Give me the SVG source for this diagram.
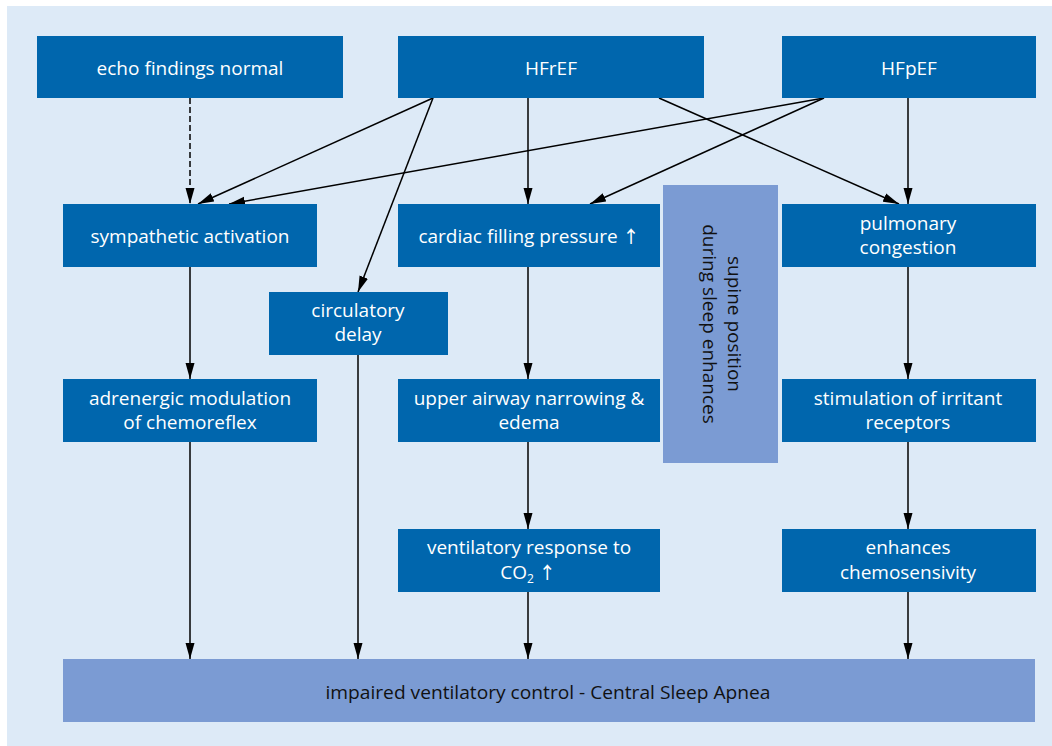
<svg xmlns="http://www.w3.org/2000/svg" width="1052" height="746" viewBox="0 0 1052 746">
<defs>
<marker id="ah" markerUnits="userSpaceOnUse" markerWidth="16" markerHeight="10" refX="16" refY="5" orient="auto">
<path d="M0,0.5 L16,5 L0,9.5 Z" fill="#000"/>
</marker>
<style>
.n{fill:#0066ad}
.l{fill:#7b9bd3}
.t{font-family:"Open Sans","Noto Sans",sans-serif;font-size:19px;fill:#fff;text-anchor:middle}
.d{font-family:"Open Sans","Noto Sans",sans-serif;font-size:19px;fill:#111;text-anchor:middle}
.a{font-family:"Noto Sans CJK SC","DejaVu Sans",sans-serif;font-size:17px;font-weight:500}
.c{stroke:#000;stroke-width:1.5;fill:none;marker-end:url(#ah)}
</style>
</defs>
<rect x="0" y="0" width="1052" height="746" fill="#fff"/>
<rect x="7" y="6" width="1045" height="740" fill="#ddeaf7"/>

<g id="connectors">
<path class="c" d="M190,98 L190,204" stroke-dasharray="6,3"/>
<path class="c" d="M433,98 L198,204"/>
<path class="c" d="M433,98 L358,292"/>
<path class="c" d="M528,98 L528,204"/>
<path class="c" d="M659,98 L899,204"/>
<path class="c" d="M824,98 L229,204"/>
<path class="c" d="M824,98 L590,204"/>
<path class="c" d="M908,98 L908,204"/>
<path class="c" d="M190,267 L190,379"/>
<path class="c" d="M528,267 L528,379"/>
<path class="c" d="M908,267 L908,379"/>
<path class="c" d="M528,441 L528,529"/>
<path class="c" d="M908,441 L908,529"/>
<path class="c" d="M190,441 L190,659"/>
<path class="c" d="M358,354 L358,659"/>
<path class="c" d="M528,591 L528,659"/>
<path class="c" d="M908,591 L908,659"/>
</g>

<g id="echo">
<rect class="n" x="37" y="36" width="306" height="62"/>
<text class="t" x="190" y="75">echo findings normal</text>
</g>
<g id="hfref">
<rect class="n" x="398" y="36" width="306" height="62"/>
<text class="t" x="551" y="75">HFrEF</text>
</g>
<g id="hfpef">
<rect class="n" x="782" y="36" width="254" height="62"/>
<text class="t" x="909" y="75">HFpEF</text>
</g>
<g id="sympathetic">
<rect class="n" x="63" y="204" width="254" height="63"/>
<text class="t" x="190" y="243">sympathetic activation</text>
</g>
<g id="cardiac">
<rect class="n" x="398" y="204" width="262" height="63"/>
<text class="t" x="529" y="243">cardiac filling pressure <tspan class="a">↑</tspan></text>
</g>
<g id="supine">
<rect class="l" x="663" y="185" width="115" height="278"/>
<text class="d" transform="translate(728,324) rotate(90)">supine position</text>
<text class="d" transform="translate(703,324) rotate(90)">during sleep enhances</text>
</g>
<g id="pulmonary">
<rect class="n" x="782" y="204" width="254" height="63"/>
<text class="t" x="908" y="230">pulmonary</text>
<text class="t" x="908" y="254">congestion</text>
</g>
<g id="circulatory">
<rect class="n" x="269" y="292" width="179" height="63"/>
<text class="t" x="358" y="317">circulatory</text>
<text class="t" x="358" y="341">delay</text>
</g>
<g id="adrenergic">
<rect class="n" x="63" y="379" width="254" height="63"/>
<text class="t" x="190" y="405">adrenergic modulation</text>
<text class="t" x="190" y="429">of chemoreflex</text>
</g>
<g id="airway">
<rect class="n" x="398" y="379" width="262" height="63"/>
<text class="t" x="529" y="405">upper airway narrowing &amp;</text>
<text class="t" x="529" y="429">edema</text>
</g>
<g id="irritant">
<rect class="n" x="782" y="379" width="254" height="63"/>
<text class="t" x="908" y="405">stimulation of irritant</text>
<text class="t" x="908" y="429">receptors</text>
</g>
<g id="ventilatory">
<rect class="n" x="398" y="529" width="262" height="63"/>
<text class="t" x="529" y="554">ventilatory response to</text>
<text class="t" x="528" y="579">CO<tspan font-size="12" dy="4">2</tspan><tspan dy="-4"> </tspan><tspan class="a">↑</tspan></text>
</g>
<g id="chemosens">
<rect class="n" x="782" y="529" width="254" height="63"/>
<text class="t" x="908" y="554">enhances</text>
<text class="t" x="908" y="579">chemosensivity</text>
</g>
<g id="csa">
<rect class="l" x="63" y="659" width="972" height="63"/>
<text class="d" x="548" y="699" textLength="445" lengthAdjust="spacingAndGlyphs">impaired ventilatory control - Central Sleep Apnea</text>
</g>
</svg>
